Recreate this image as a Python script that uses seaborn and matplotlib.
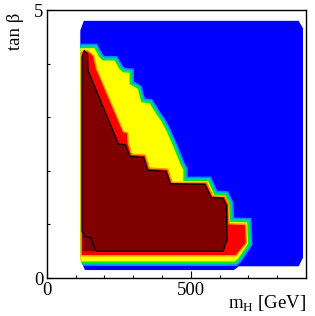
import matplotlib
matplotlib.use("Agg")
import matplotlib.pyplot as plt
import seaborn as sns
from matplotlib.ticker import MultipleLocator

sns.set_style("ticks", {"axes.edgecolor": "black", "xtick.color": "black",
                        "ytick.color": "black", "text.color": "black"})
plt.rcParams['font.family'] = ['Liberation Serif', 'DejaVu Serif']
plt.rcParams['mathtext.fontset'] = 'custom'
plt.rcParams['mathtext.rm'] = 'Liberation Serif'

# scanned region of the (m_H, tan beta) plane
grid_mh = [116, 128, 875, 890, 890, 875, 667, 650, 132, 116]
grid_tanb = [4.62, 4.80, 4.80, 4.66, 0.38, 0.22, 0.22, 0.15, 0.15, 0.36]

# outer edge of the yellow region
yellow_mh = [116, 165, 182, 194, 235, 252, 264, 287, 287, 316, 328, 357, 380,
             397, 415, 442, 465, 474, 474, 560, 582, 620, 633, 636, 696, 699,
             664, 654, 116]
yellow_tanb = [4.29, 4.29, 4.12, 4.06, 4.06, 3.90, 3.84, 3.83, 3.62, 3.53, 3.28,
               3.26, 3.06, 2.93, 2.75, 2.42, 2.11, 2.02, 1.81, 1.81, 1.55, 1.54,
               1.39, 1.05, 1.04, 0.64, 0.36, 0.31, 0.31]

# outer edge of the red region
red_mh = [121, 130, 143, 160, 170, 264, 278, 280, 292, 340, 354, 418, 433, 553,
          575, 616, 629, 631, 688, 691, 656, 121]
red_tanb = [4.20, 4.24, 4.22, 4.14, 3.90, 2.72, 2.70, 2.52, 2.30, 2.28, 2.04,
            2.02, 1.77, 1.77, 1.52, 1.51, 1.37, 1.00, 0.99, 0.66, 0.43, 0.43]

# excluded core (dark red)
core_mh = [130, 141, 143, 249, 273, 288, 336, 350, 414, 429, 549, 571, 612, 624,
           626, 612, 123, 123]
core_tanb = [4.24, 4.18, 3.87, 2.50, 2.49, 2.27, 2.25, 2.01, 1.99, 1.76, 1.75,
             1.50, 1.49, 1.35, 0.70, 0.50, 0.50, 4.12]

# limit contour (black line)
limit_mh = [130, 141, 143, 249, 273, 288, 336, 350, 414, 429, 549, 571, 612, 624,
            626, 612, 170, 152, 133, 122, 122, 130]
limit_tanb = [4.24, 4.18, 3.87, 2.50, 2.49, 2.27, 2.25, 2.01, 1.99, 1.76, 1.75,
              1.50, 1.49, 1.35, 0.70, 0.50, 0.50, 0.76, 0.77, 0.87, 4.12, 4.24]

c_scan, c_light, c_cyan, c_green = '#0000ff', '#0088ff', '#00c8c8', '#00ee00'
c_yellow, c_orange, c_red, c_core = '#ffff00', '#ff9900', '#ff0000', '#800000'

fig = plt.figure(figsize=(3.15, 3.16), dpi=100)
ax = fig.add_axes([0.149, 0.120, 0.822, 0.848])

scan = ax.fill(grid_mh, grid_tanb, color=c_scan, lw=0)[0]

b = 1.5 * 72 / fig.dpi  # width of one thin band, points


def band(x, y, k, color):
    p = ax.fill(x, y, fill=False, edgecolor=color, lw=2 * k * b,
                joinstyle='miter')[0]
    p.set_clip_path(scan)


band(yellow_mh, yellow_tanb, 3, c_light)
band(yellow_mh, yellow_tanb, 2, c_cyan)
band(yellow_mh, yellow_tanb, 1, c_green)
ax.fill(yellow_mh, yellow_tanb, color=c_yellow, lw=0)
band(red_mh, red_tanb, 1, c_orange)
ax.fill(red_mh, red_tanb, color=c_red, lw=0)
ax.fill(core_mh, core_tanb, color=c_core, lw=0)
ax.plot(limit_mh, limit_tanb, color='black', lw=0.9)

ax.set_xlim(0, 900)
ax.set_ylim(0, 5)
ax.set_xticks([0, 500])
ax.set_yticks([0, 5])
ax.xaxis.set_minor_locator(MultipleLocator(100))
ax.yaxis.set_minor_locator(MultipleLocator(1))
ax.tick_params(which='both', direction='in', top=False, right=False, width=0.8)
ax.tick_params(which='major', length=5, labelsize=13.5, pad=2.5)
ax.tick_params(which='minor', length=2.4)
for s in ax.spines.values():
    s.set_linewidth(1.0)

ax.text(1.0, -0.116, 'm$_{\\rm H}$ [GeV]', transform=ax.transAxes,
        ha='right', va='baseline', fontsize=13.5)
ax.text(-0.12, 0.99, 'tan β', rotation=90, transform=ax.transAxes,
        ha='center', va='top', fontsize=13.5)

fig.savefig('out.png', dpi=100)
